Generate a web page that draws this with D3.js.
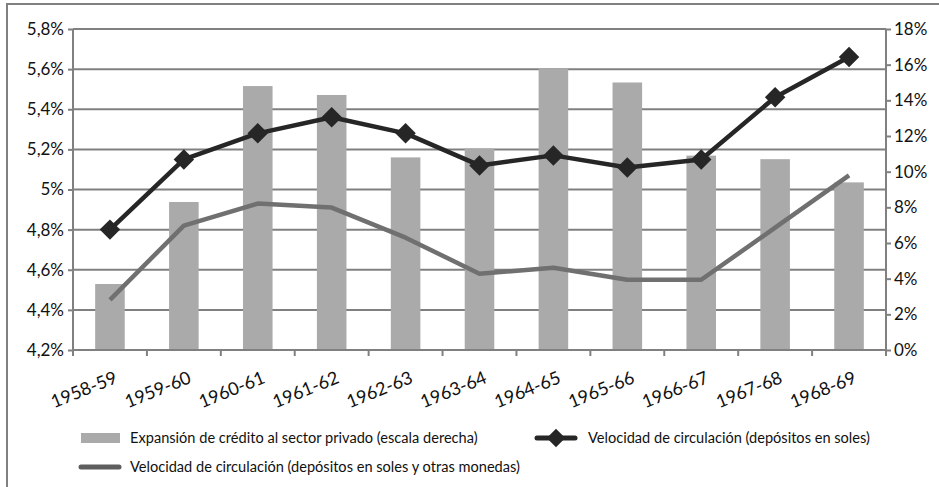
<!DOCTYPE html>
<html>
<head>
<meta charset="utf-8">
<script src="https://cdn.jsdelivr.net/npm/d3@7/dist/d3.min.js"></script>
<style>
  html, body { margin: 0; padding: 0; background: #fff; }
  svg { display: block; font-family: Lato, "Open Sans", sans-serif; }
</style>
</head>
<body>
<svg id="chart" width="939" height="487"></svg>
<script>
// Periods on the category axis
const categories = ["1958-59", "1959-60", "1960-61", "1961-62", "1962-63", "1963-64",
                    "1964-65", "1965-66", "1966-67", "1967-68", "1968-69"];

// Expansión de crédito al sector privado (%; right scale)
const creditExpansion = [3.7, 8.3, 14.8, 14.3, 10.8, 11.3, 15.8, 15.0, 10.9, 10.7, 9.4];

// Velocidad de circulación, depósitos en soles (%; left scale)
const velocitySoles = [4.80, 5.15, 5.28, 5.36, 5.28, 5.12, 5.17, 5.11, 5.15, 5.46, 5.66];

// Velocidad de circulación, depósitos en soles y otras monedas (%; left scale)
const velocityAll = [4.45, 4.82, 4.93, 4.91, 4.76, 4.58, 4.61, 4.55, 4.55, 4.81, 5.07];

// Axis ticks
const leftTicks = [4.2, 4.4, 4.6, 4.8, 5.0, 5.2, 5.4, 5.6, 5.8];
const rightTicks = [0, 2, 4, 6, 8, 10, 12, 14, 16, 18];

// Legend entries
const legendLabels = [
  "Expansión de crédito al sector privado (escala derecha)",
  "Velocidad de circulación (depósitos en soles)",
  "Velocidad de circulación (depósitos en soles y otras monedas)"
];

const svg = d3.select("#chart");
const plot = { left: 73, right: 886, top: 29, bottom: 350 };

const GRID = "#808080";
const BAR = "#aaaaaa";
const DARK = "#262626";
const MID = "#707070";

const esLocale = d3.formatLocale({ decimal: ",", thousands: ".", grouping: [3], currency: ["", ""] });
const fmtLeft = v => esLocale.format(".1~f")(v) + "%";
const fmtRight = v => esLocale.format("d")(v) + "%";

const x = d3.scaleBand().domain(categories).range([plot.left, plot.right]).padding(0);
const cx = c => x(c) + x.bandwidth() / 2;
const yL = d3.scaleLinear().domain([4.2, 5.8]).range([plot.bottom, plot.top]);
const yR = d3.scaleLinear().domain([0, 18]).range([plot.bottom, plot.top]);

// outer frame (top and left edges)
svg.append("path")
  .attr("d", "M7,487 V4 H939")
  .attr("fill", "none").attr("stroke", GRID).attr("stroke-width", 2);

// horizontal gridlines
svg.append("g").selectAll("line").data(leftTicks.slice(1)).join("line")
  .attr("x1", plot.left).attr("x2", plot.right)
  .attr("y1", d => yL(d)).attr("y2", d => yL(d))
  .attr("stroke", GRID).attr("stroke-width", 2);

// bars (credit expansion)
const barW = x.bandwidth() * 0.4;
svg.append("g").selectAll("rect").data(categories).join("rect")
  .attr("x", c => cx(c) - barW / 2)
  .attr("width", barW)
  .attr("y", (c, i) => yR(creditExpansion[i]))
  .attr("height", (c, i) => yR(0) - yR(creditExpansion[i]))
  .attr("fill", BAR);

// left axis
const leftAxis = svg.append("g").attr("transform", `translate(${plot.left},0)`)
  .call(d3.axisLeft(yL).tickValues(leftTicks).tickFormat(fmtLeft).tickSize(5).tickPadding(4));
// right axis
const rightAxis = svg.append("g").attr("transform", `translate(${plot.right},0)`)
  .call(d3.axisRight(yR).tickValues(rightTicks).tickFormat(fmtRight).tickSize(5).tickPadding(3));
// bottom axis with ticks at the category boundaries
const bottomAxis = svg.append("g").attr("transform", `translate(0,${plot.bottom})`);
bottomAxis.call(d3.axisBottom(x).tickSize(0).tickFormat(""));
bottomAxis.selectAll(".tick").remove();
const boundaries = categories.map(c => x(c)).concat([plot.right]);
bottomAxis.selectAll("line.bt").data(boundaries).join("line").attr("class", "bt")
  .attr("x1", d => d).attr("x2", d => d).attr("y1", 0).attr("y2", 6)
  .attr("stroke", GRID).attr("stroke-width", 2);

[leftAxis, rightAxis, bottomAxis].forEach(g => {
  g.select(".domain").attr("stroke", GRID).attr("stroke-width", 2);
  g.selectAll(".tick line").attr("stroke", GRID).attr("stroke-width", 2);
  g.selectAll(".tick text").attr("fill", "#111").attr("font-size", 17)
    .attr("font-family", "Lato, sans-serif");
});
leftAxis.select(".domain").attr("d", `M0,${plot.top}V${plot.bottom}`);
rightAxis.select(".domain").attr("d", `M0,${plot.top}V${plot.bottom}`);
bottomAxis.select(".domain").attr("d", `M${plot.left},0H${plot.right}`);

// rotated category labels
svg.append("g").selectAll("text").data(categories).join("text")
  .attr("transform", c => `translate(${cx(c) + 3},369) rotate(-22)`)
  .attr("text-anchor", "end")
  .attr("dominant-baseline", "hanging")
  .attr("font-size", 18).attr("fill", "#111")
  .text(c => c);

// lines
const lineL = d3.line().x((d, i) => cx(categories[i])).y(d => yL(d));
svg.append("path").datum(velocityAll).attr("d", lineL)
  .attr("fill", "none").attr("stroke", MID).attr("stroke-width", 4.5)
  .attr("stroke-linejoin", "round");
svg.append("path").datum(velocitySoles).attr("d", lineL)
  .attr("fill", "none").attr("stroke", DARK).attr("stroke-width", 4.5)
  .attr("stroke-linejoin", "round");

const diamond = d3.symbol(d3.symbolSquare, 210);
svg.append("g").selectAll("path").data(velocitySoles).join("path")
  .attr("transform", (d, i) => `translate(${cx(categories[i])},${yL(d)}) rotate(45)`)
  .attr("d", diamond).attr("fill", DARK);

// legend
const legend = svg.append("g").attr("font-size", 14.6).attr("fill", "#111");
const row1 = 438, row2 = 467;
legend.append("rect").attr("x", 81).attr("y", row1 - 5).attr("width", 39).attr("height", 10).attr("fill", BAR);
legend.append("text").attr("x", 130).attr("y", row1).attr("dy", "0.35em").text(legendLabels[0]);

legend.append("line").attr("x1", 537).attr("x2", 575).attr("y1", row1).attr("y2", row1)
  .attr("stroke", DARK).attr("stroke-width", 5).attr("stroke-linecap", "round");
legend.append("path").attr("transform", `translate(556,${row1}) rotate(45)`)
  .attr("d", d3.symbol(d3.symbolSquare, 170)).attr("fill", DARK);
legend.append("text").attr("x", 588).attr("y", row1).attr("dy", "0.35em").text(legendLabels[1]);

legend.append("line").attr("x1", 81).attr("x2", 119).attr("y1", row2).attr("y2", row2)
  .attr("stroke", "#5e5e5e").attr("stroke-width", 5).attr("stroke-linecap", "round");
legend.append("text").attr("x", 130).attr("y", row2).attr("dy", "0.35em").text(legendLabels[2]);
</script>
</body>
</html>
